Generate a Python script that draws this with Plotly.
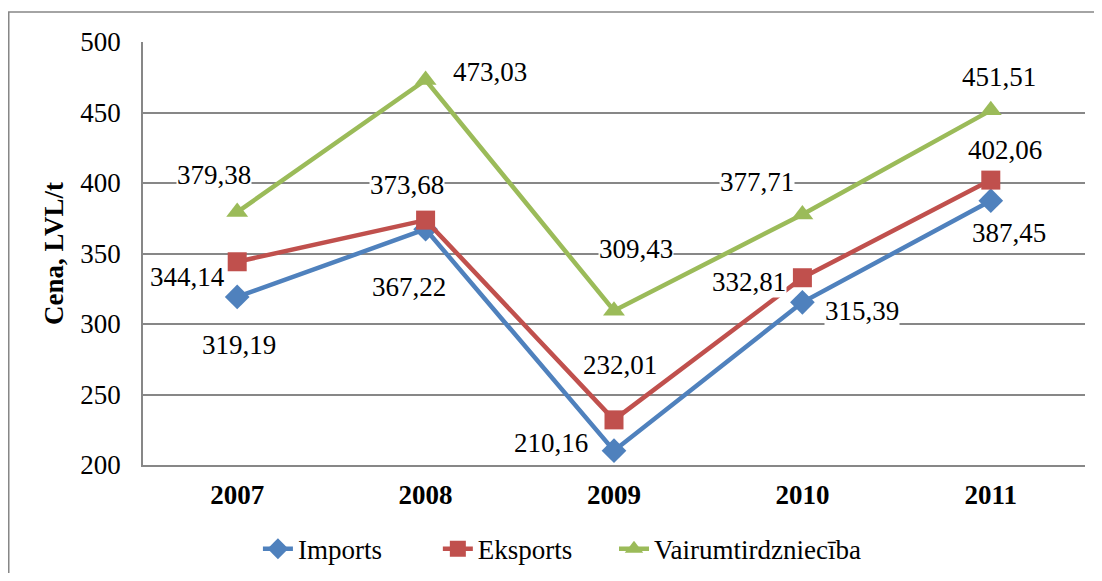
import plotly.graph_objects as go

years = ["2007", "2008", "2009", "2010", "2011"]
imports = [319.19, 367.22, 210.16, 315.39, 387.45]
eksports = [344.14, 373.68, 232.01, 332.81, 402.06]
vairum = [379.38, 473.03, 309.43, 377.71, 451.51]

# label offsets (px) from each point, tuned by eye
imp_off = [(2, -48), (-17, -58), (-63, 8), (60, -9), (18, -32)]
eks_off = [(-50, -15), (-19, 35), (6, 55), (-53, -4), (14, 30)]
vai_off = [(-23, 37), (64, 8), (22, 62), (-45, 32), (8, 33)]

FONT = "Liberation Serif, Times New Roman, serif"

series = [
    ("Imports", imports, "#4F81BD", "diamond", 19, imp_off, "legend", 0.122),
    ("Eksports", eksports, "#C0504D", "square", 19, eks_off, "legend2", 0.313),
    ("Vairumtirdzniecība", vairum, "#9BBB59", "triangle-up", 19, vai_off, "legend3", 0.500),
]

fig = go.Figure()
annotations = []
legends = {}
for name, vals, col, sym, size, offs, leg, lx in series:
    fig.add_trace(go.Scatter(
        x=years, y=vals, name=name, mode="lines+markers",
        line=dict(color=col, width=4.5),
        marker=dict(symbol=sym, size=size, color=col),
        legend=leg,
    ))
    # one legend per series so the entries can be spaced like the original
    legends[leg] = dict(orientation="h", x=lx, xanchor="left", y=-0.199, yanchor="middle",
                        font=dict(family=FONT, size=27), bgcolor="rgba(0,0,0,0)")
    # category axis: annotations take the category index
    for i, (v, (dx, dy)) in enumerate(zip(vals, offs)):
        annotations.append(dict(
            x=i, y=v, xref="x", yref="y",
            text=f"{v:.2f}".replace(".", ","),
            showarrow=False, xshift=dx, yshift=dy,
            bgcolor="white", borderpad=0,
            font=dict(family=FONT, size=27, color="black"),
        ))

# outer chart-area border (left and top visible)
fig.add_shape(type="rect", xref="paper", yref="paper",
              x0=-0.1425, x1=1.5, y0=-1.0, y1=1.0709,
              line=dict(color="#878787", width=1.5), layer="below")

fig.update_layout(
    width=1086, height=565,
    margin=dict(l=135, r=9, t=34, b=108, autoexpand=False),
    paper_bgcolor="white", plot_bgcolor="white",
    font=dict(family=FONT, size=27, color="black"),
    annotations=annotations,
    showlegend=True,
    **legends,
)
fig.update_xaxes(
    type="category", range=[-0.5, 4.5],
    showline=True, linecolor="#878787", linewidth=1.5,
    showgrid=False, ticks="", ticklabelstandoff=5,
    tickfont=dict(family=FONT, size=27, color="black", weight="bold"),
)
fig.update_yaxes(
    range=[200, 500], dtick=50, tick0=200,
    showline=True, linecolor="#878787", linewidth=1.5,
    showgrid=True, gridcolor="#878787", gridwidth=1.5, zeroline=False,
    ticks="", ticklabelstandoff=15,
    tickfont=dict(family=FONT, size=27, color="black"),
    title=dict(text="<b>Cena, LVL/t</b>", standoff=9,
               font=dict(family=FONT, size=27, color="black")),
)

fig.write_html("out.html")
